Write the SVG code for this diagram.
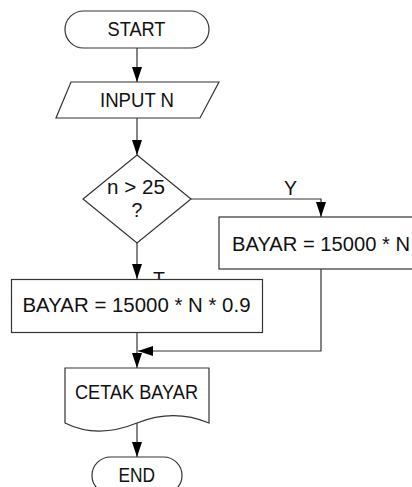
<svg xmlns="http://www.w3.org/2000/svg" width="412" height="487" viewBox="0 0 412 487">
<defs>
<style>
.shape{fill:#fff;stroke:#333;stroke-width:1.2}
.conn{fill:none;stroke:#333;stroke-width:1.2}
.t{font-family:"Liberation Sans",Arial,sans-serif;font-size:19.5px;fill:#111}
.c{text-anchor:middle}
</style>
<marker id="ah" markerWidth="15" markerHeight="10" refX="15" refY="5" viewBox="0 0 15 10" orient="auto" markerUnits="userSpaceOnUse">
<path d="M0,0 L15,5 L0,10 Z" fill="#000"/>
</marker>
</defs>
<g id="connectors">
<path class="conn" d="M137,48 V82" marker-end="url(#ah)"/>
<path class="conn" d="M137,118 V155" marker-end="url(#ah)"/>
<path class="conn" d="M191,199 H321 V217" marker-end="url(#ah)"/>
<text class="t" x="284" y="195">Y</text>
<text class="t" x="153" y="286">T</text>
<path class="conn" d="M137,243 V279" marker-end="url(#ah)"/>
<path class="conn" d="M321,269 V351 H138" marker-end="url(#ah)"/>
<path class="conn" d="M137,333 V368" marker-end="url(#ah)"/>
<path class="conn" d="M137,423 V457" marker-end="url(#ah)"/>
</g>
<g id="start">
<rect class="shape" x="65" y="11" width="144" height="37" rx="18.5"/>
<text class="t" x="107.5" y="35.5" textLength="58" lengthAdjust="spacingAndGlyphs">START</text>
</g>
<g id="input">
<polygon class="shape" points="71,82 219,82 200,118 56,118"/>
<text class="t" x="100" y="107" textLength="74" lengthAdjust="spacingAndGlyphs">INPUT N</text>
</g>
<g id="decision">
<polygon class="shape" points="137,155 191,199 137,243 83,199"/>
<text class="t" x="107" y="193.5" textLength="58" lengthAdjust="spacingAndGlyphs">n &gt; 25</text>
<text class="t c" x="137" y="217">?</text>
</g>
<g id="bayar-y">
<rect class="shape" x="219" y="217" width="200" height="52"/>
<text class="t" x="232" y="250.5" textLength="178" lengthAdjust="spacingAndGlyphs">BAYAR = 15000 * N</text>
</g>
<g id="bayar-t">
<rect class="shape" x="11.5" y="279.5" width="251" height="53"/>
<text class="t" x="22.5" y="312" textLength="228" lengthAdjust="spacingAndGlyphs">BAYAR = 15000 * N * 0.9</text>
</g>
<g id="cetak">
<path class="shape" d="M65,368 H209 V423 C185,413 162,413 137,423 C110,434 85,433 65,423 Z"/>
<text class="t" x="75" y="399" textLength="123" lengthAdjust="spacingAndGlyphs">CETAK BAYAR</text>
</g>
<g id="end">
<rect class="shape" x="92" y="457" width="90" height="37" rx="18.5"/>
<text class="t" x="118.5" y="481.5" textLength="36.5" lengthAdjust="spacingAndGlyphs">END</text>
</g>
</svg>
